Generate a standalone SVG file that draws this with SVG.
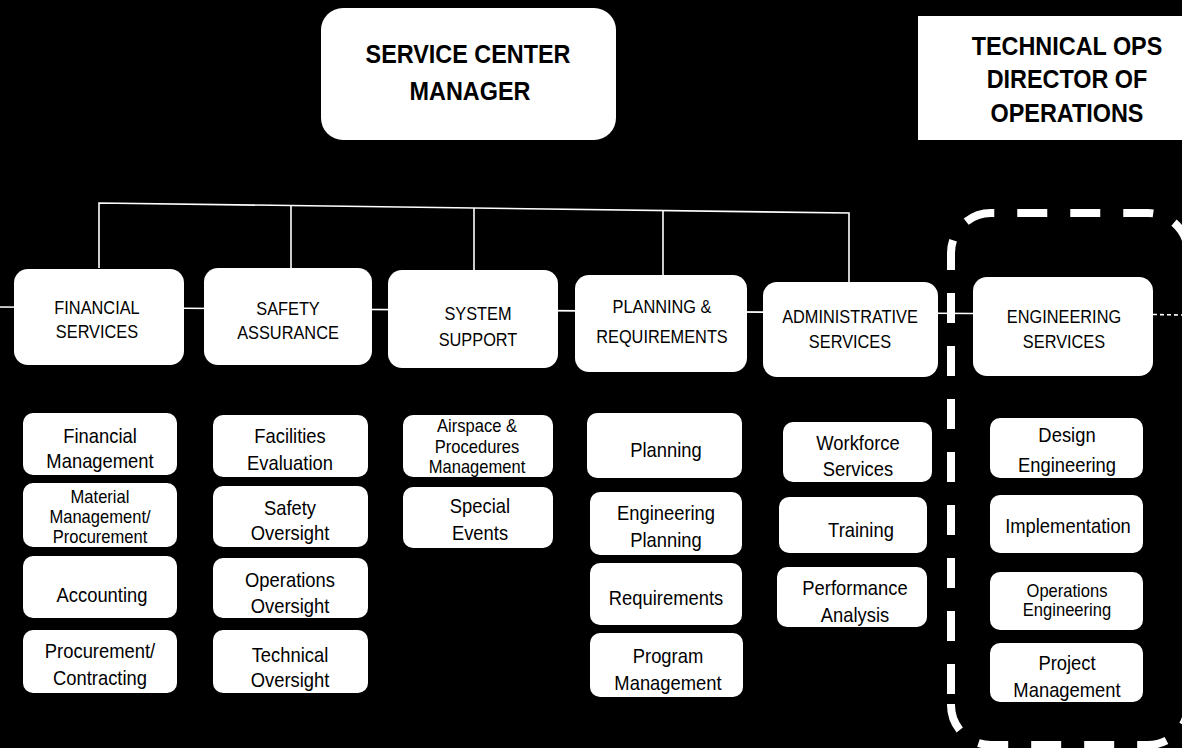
<svg xmlns="http://www.w3.org/2000/svg" width="1182" height="748" viewBox="0 0 1182 748">
  <style>
    .box { fill: #ffffff; stroke: none; }
    .t { font-family: "Liberation Sans", Arial, sans-serif; text-anchor: middle; fill: #000000;
         transform-box: fill-box; transform-origin: center; }
    .h1 { font-size: 26px; font-weight: bold; transform: scaleX(0.9); }
    .h2 { font-size: 19px; transform: scaleX(0.86); }
    .h3 { font-size: 20px; transform: scaleX(0.92); }
    .h3s { font-size: 18px; transform: scaleX(0.92); }
    .wire { stroke: #ffffff; stroke-width: 1.6; fill: none; }
    .group { stroke: #ffffff; stroke-width: 8; fill: none; stroke-dasharray: 30 23; stroke-dashoffset: 43; }
  </style>

  <rect width="1182" height="748" fill="#000000"/>

  <!-- connectors -->
  <g id="connectors">
    <line class="wire" x1="0" y1="307" x2="973" y2="313.5"/>
    <line class="wire" x1="1153" y1="314.5" x2="1182" y2="315" stroke-dasharray="4 3"/>
    <polyline class="wire" points="99,268 99,203 849,213 849,282"/>
    <line class="wire" x1="291" y1="205.6" x2="291" y2="268"/>
    <line class="wire" x1="474" y1="208" x2="474" y2="270"/>
    <line class="wire" x1="663" y1="210.5" x2="663" y2="275"/>
  </g>

  <!-- dashed grouping around engineering services -->
  <path id="engineering-group" class="group" d="M951,704 V253 A40,40 0 0 1 991,213 H1148 A40,40 0 0 1 1188,253 V705 A40,40 0 0 1 1148,745 H991 A40,40 0 0 1 951,705 Z"/>

  <!-- top level -->
  <g id="service-center-manager">
    <rect class="box" x="321" y="8" width="295" height="132" rx="22"/>
    <text class="t h1" x="468" y="63">SERVICE CENTER</text>
    <text class="t h1" x="470" y="100">MANAGER</text>
  </g>
  <g id="technical-ops">
    <rect class="box" x="918" y="16" width="270" height="124"/>
    <text class="t h1" x="1067" y="55">TECHNICAL OPS</text>
    <text class="t h1" x="1067" y="88">DIRECTOR OF</text>
    <text class="t h1" x="1067" y="122">OPERATIONS</text>
  </g>

  <!-- divisions -->
  <g id="financial-services">
    <rect class="box" x="14" y="269" width="170" height="96" rx="14"/>
    <text class="t h2" x="97" y="314">FINANCIAL</text>
    <text class="t h2" x="97" y="338">SERVICES</text>
  </g>
  <g id="safety-assurance">
    <rect class="box" x="204" y="268" width="168" height="97" rx="14"/>
    <text class="t h2" x="288" y="315">SAFETY</text>
    <text class="t h2" x="288" y="339">ASSURANCE</text>
  </g>
  <g id="system-support">
    <rect class="box" x="388" y="270" width="170" height="98" rx="14"/>
    <text class="t h2" x="478" y="320">SYSTEM</text>
    <text class="t h2" x="478" y="346">SUPPORT</text>
  </g>
  <g id="planning-requirements">
    <rect class="box" x="575" y="275" width="172" height="97" rx="14"/>
    <text class="t h2" x="662" y="313">PLANNING &amp;</text>
    <text class="t h2" x="662" y="343">REQUIREMENTS</text>
  </g>
  <g id="administrative-services">
    <rect class="box" x="763" y="282" width="175" height="95" rx="14"/>
    <text class="t h2" x="850" y="323">ADMINISTRATIVE</text>
    <text class="t h2" x="850" y="348">SERVICES</text>
  </g>
  <g id="engineering-services">
    <rect class="box" x="973" y="277" width="180" height="99" rx="14"/>
    <text class="t h2" x="1064" y="323">ENGINEERING</text>
    <text class="t h2" x="1064" y="348">SERVICES</text>
  </g>

  <!-- financial services units -->
  <g id="financial-management">
    <rect class="box" x="23" y="413" width="154" height="62" rx="10"/>
    <text class="t h3" x="100" y="443">Financial</text>
    <text class="t h3" x="100" y="468">Management</text>
  </g>
  <g id="material-management">
    <rect class="box" x="23" y="483" width="154" height="64" rx="10"/>
    <text class="t h3s" x="100" y="503">Material</text>
    <text class="t h3s" x="100" y="523">Management/</text>
    <text class="t h3s" x="100" y="543">Procurement</text>
  </g>
  <g id="accounting">
    <rect class="box" x="23" y="556" width="154" height="62" rx="10"/>
    <text class="t h3" x="102" y="602">Accounting</text>
  </g>
  <g id="procurement-contracting">
    <rect class="box" x="23" y="630" width="154" height="63" rx="10"/>
    <text class="t h3" x="100" y="658">Procurement/</text>
    <text class="t h3" x="100" y="685">Contracting</text>
  </g>

  <!-- safety assurance units -->
  <g id="facilities-evaluation">
    <rect class="box" x="213" y="415" width="155" height="62" rx="10"/>
    <text class="t h3" x="290" y="443">Facilities</text>
    <text class="t h3" x="290" y="470">Evaluation</text>
  </g>
  <g id="safety-oversight">
    <rect class="box" x="213" y="486" width="155" height="61" rx="10"/>
    <text class="t h3" x="290" y="515">Safety</text>
    <text class="t h3" x="290" y="540">Oversight</text>
  </g>
  <g id="operations-oversight">
    <rect class="box" x="213" y="558" width="155" height="60" rx="10"/>
    <text class="t h3" x="290" y="587">Operations</text>
    <text class="t h3" x="290" y="613">Oversight</text>
  </g>
  <g id="technical-oversight">
    <rect class="box" x="213" y="630" width="155" height="63" rx="10"/>
    <text class="t h3" x="290" y="662">Technical</text>
    <text class="t h3" x="290" y="687">Oversight</text>
  </g>

  <!-- system support units -->
  <g id="airspace-procedures">
    <rect class="box" x="403" y="415" width="150" height="62" rx="10"/>
    <text class="t h3s" x="477" y="432">Airspace &amp;</text>
    <text class="t h3s" x="477" y="453">Procedures</text>
    <text class="t h3s" x="477" y="473">Management</text>
  </g>
  <g id="special-events">
    <rect class="box" x="403" y="487" width="150" height="61" rx="10"/>
    <text class="t h3" x="480" y="513">Special</text>
    <text class="t h3" x="480" y="540">Events</text>
  </g>

  <!-- planning & requirements units -->
  <g id="planning">
    <rect class="box" x="587" y="413" width="155" height="65" rx="10"/>
    <text class="t h3" x="666" y="457">Planning</text>
  </g>
  <g id="engineering-planning">
    <rect class="box" x="590" y="492" width="152" height="63" rx="10"/>
    <text class="t h3" x="666" y="520">Engineering</text>
    <text class="t h3" x="666" y="547">Planning</text>
  </g>
  <g id="requirements">
    <rect class="box" x="590" y="563" width="152" height="62" rx="10"/>
    <text class="t h3" x="666" y="605">Requirements</text>
  </g>
  <g id="program-management">
    <rect class="box" x="590" y="633" width="153" height="64" rx="10"/>
    <text class="t h3" x="668" y="663">Program</text>
    <text class="t h3" x="668" y="690">Management</text>
  </g>

  <!-- administrative services units -->
  <g id="workforce-services">
    <rect class="box" x="783" y="422" width="149" height="60" rx="10"/>
    <text class="t h3" x="858" y="450">Workforce</text>
    <text class="t h3" x="858" y="476">Services</text>
  </g>
  <g id="training">
    <rect class="box" x="779" y="497" width="148" height="56" rx="10"/>
    <text class="t h3" x="861" y="537">Training</text>
  </g>
  <g id="performance-analysis">
    <rect class="box" x="777" y="567" width="150" height="60" rx="10"/>
    <text class="t h3" x="855" y="595">Performance</text>
    <text class="t h3" x="855" y="622">Analysis</text>
  </g>

  <!-- engineering services units -->
  <g id="design-engineering">
    <rect class="box" x="990" y="418" width="153" height="60" rx="10"/>
    <text class="t h3" x="1067" y="442">Design</text>
    <text class="t h3" x="1067" y="472">Engineering</text>
  </g>
  <g id="implementation">
    <rect class="box" x="990" y="495" width="153" height="58" rx="10"/>
    <text class="t h3" x="1068" y="533">Implementation</text>
  </g>
  <g id="operations-engineering">
    <rect class="box" x="990" y="572" width="153" height="58" rx="10"/>
    <text class="t h3s" x="1067" y="597">Operations</text>
    <text class="t h3s" x="1067" y="616">Engineering</text>
  </g>
  <g id="project-management">
    <rect class="box" x="990" y="643" width="153" height="59" rx="10"/>
    <text class="t h3" x="1067" y="670">Project</text>
    <text class="t h3" x="1067" y="697">Management</text>
  </g>
</svg>
